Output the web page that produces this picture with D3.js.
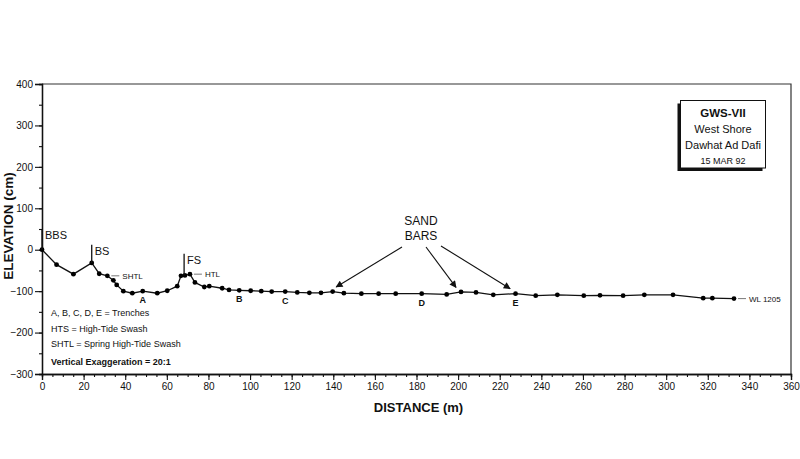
<!DOCTYPE html>
<html>
<head>
<meta charset="utf-8">
<script src="https://cdn.jsdelivr.net/npm/d3@7"></script>
<style>
  body { margin: 0; background: #fff; }
  text { font-family: "Liberation Sans", Arial, sans-serif; fill: #111; }
</style>
</head>
<body>
<svg id="chart" width="800" height="459"></svg>
<script>
// profile survey points (distance m, elevation cm)
const distances = [0, 7, 15.1, 23.9, 27.5, 31.4, 34.3, 35.9, 39.1, 43.4, 48.4, 55.4, 60.2, 65, 66.8,
  68.7, 71.1, 73.5, 78, 80.4, 86.6, 89.9, 94.8, 100.3, 105.4, 110.4, 116.9, 122.7, 128.5, 134.1,
  139.7, 145.1, 153.5, 161.8, 170, 182.5, 194.5, 201.4, 208.6, 216.9, 227.6, 237.3, 247.7, 260.4,
  268.2, 279.3, 289.5, 303.3, 317.8, 322.2, 332.6]
const elevations = [0, -36, -59, -32, -58, -63, -74, -85, -100, -105, -100, -105, -99, -88, -63,
  -62, -59, -79, -90, -88, -93, -97, -98, -99, -100, -101, -101, -103, -104, -104,
  -101, -105, -106, -106, -106, -106, -108, -102, -103, -109, -106, -111, -109, -111,
  -110, -111, -109, -109, -117, -117, -118]

// beach features: vertical tick markers
const markerNames = ["BBS", "BS", "FS"]
const markerX = [0, 23.9, 68.3]
const markerBottom = [0, -32, -62]
const markerTop = [50, 12, -10]

// trenches
const trenchNames = ["A", "B", "C", "D", "E"]
const trenchX = [48.4, 94.8, 116.9, 182.5, 227.6]
const trenchY = [-100, -98, -101, -106, -106]

// water lines (label off to the right of a point)
const lineNames = ["SHTL", "HTL", "WL 1205"]
const lineX = [31.4, 71.1, 332.6]
const lineY = [-63, -59, -118]

// sand bar arrow tips
const barX = [141.4, 199, 225]
const barY = [-90, -91, -94]

const legendLines = ["A, B, C, D, E = Trenches", "HTS =  High-Tide Swash", "SHTL = Spring High-Tide Swash"]
const boxLines = ["GWS-VII", "West Shore", "Dawhat Ad Dafi", "15 MAR 92"]

const plotL = 42, plotR = 791, plotT = 84, plotB = 374

const svg = d3.select("#chart")
const x = d3.scaleLinear().domain([0, 360]).range([plotL, plotR])
const y = d3.scaleLinear().domain([-300, 400]).range([plotB, plotT])

svg.append("defs").append("marker")
  .attr("id", "arrow").attr("viewBox", "0 0 10 10").attr("refX", 9).attr("refY", 5)
  .attr("markerWidth", 9).attr("markerHeight", 7).attr("orient", "auto")
  .attr("markerUnits", "userSpaceOnUse")
  .append("path").attr("d", "M0,0L10,5L0,10z").attr("fill", "#111")

// frame top & right
svg.append("path")
  .attr("d", `M${plotL},${plotT}H${plotR}V${plotB}`)
  .attr("fill", "none").attr("stroke", "#333").attr("stroke-width", 1.2)

// axes
const styleAxis = g => {
  g.select(".domain").attr("stroke", "#111").attr("stroke-width", 1.3)
  g.selectAll(".tick line").attr("stroke", "#111").attr("stroke-width", 1.1)
  g.selectAll(".tick text").style("font-size", "10px").attr("fill", "#111")
}
svg.append("g").attr("transform", `translate(${plotL},0)`)
  .call(d3.axisLeft(y).tickValues(d3.range(-300, 401, 50)).tickSize(3).tickFormat(""))
  .call(styleAxis)
svg.append("g").attr("transform", `translate(${plotL},0)`)
  .call(d3.axisLeft(y).tickValues(d3.range(-300, 401, 100)).tickSize(7).tickPadding(2))
  .call(styleAxis)
svg.append("g").attr("transform", `translate(0,${plotB})`)
  .call(d3.axisBottom(x).tickValues(d3.range(0, 361, 5)).tickSize(3).tickFormat(""))
  .call(styleAxis)
svg.append("g").attr("transform", `translate(0,${plotB})`)
  .call(d3.axisBottom(x).tickValues(d3.range(0, 361, 20)).tickSize(6).tickPadding(3))
  .call(styleAxis)

svg.append("text").attr("x", (plotL + plotR) / 2 + 2).attr("y", 412)
  .attr("text-anchor", "middle").style("font-size", "13px").style("font-weight", "bold")
  .text("DISTANCE (m)")
svg.append("text").attr("transform", `translate(13,${(plotT + plotB) / 2 - 3}) rotate(-90)`)
  .attr("text-anchor", "middle").style("font-size", "13.5px").style("font-weight", "bold")
  .text("ELEVATION (cm)")

// profile
const pts = distances.map((d, i) => [d, elevations[i]])
svg.append("path").datum(pts)
  .attr("d", d3.line().x(d => x(d[0])).y(d => y(d[1])))
  .attr("fill", "none").attr("stroke", "#111").attr("stroke-width", 1.3)
svg.selectAll("circle.pt").data(pts).enter().append("circle")
  .attr("cx", d => x(d[0])).attr("cy", d => y(d[1])).attr("r", 2.4).attr("fill", "#000")

// markers
markerNames.forEach((name, i) => {
  svg.append("line")
    .attr("x1", x(markerX[i])).attr("x2", x(markerX[i]))
    .attr("y1", y(markerBottom[i])).attr("y2", y(markerTop[i]))
    .attr("stroke", "#111").attr("stroke-width", 1.3)
  svg.append("text").attr("x", x(markerX[i]) + 3).attr("y", y(markerTop[i]) + 10)
    .style("font-size", "11px").text(name)
})

// trenches
trenchNames.forEach((name, i) => {
  svg.append("text").attr("x", x(trenchX[i])).attr("y", y(trenchY[i]) + 12)
    .attr("text-anchor", "middle").style("font-size", "9px").style("font-weight", "bold")
    .text(name)
})

// water line labels
lineNames.forEach((name, i) => {
  const x0 = x(lineX[i]) + 4, yy = y(lineY[i])
  svg.append("line").attr("x1", x0).attr("x2", x0 + 8).attr("y1", yy).attr("y2", yy)
    .attr("stroke", "#555").attr("stroke-width", 0.8)
  svg.append("text").attr("x", x0 + 11).attr("y", yy + 3)
    .style("font-size", "8px").text(name)
})

// sand bars
svg.append("text").attr("x", 421).attr("y", 225).attr("text-anchor", "middle")
  .style("font-size", "12px").text("SAND")
svg.append("text").attr("x", 421).attr("y", 240).attr("text-anchor", "middle")
  .style("font-size", "12px").text("BARS")
const starts = [[402, 247], [426, 247], [441, 246]]
barX.forEach((bx, i) => {
  svg.append("line")
    .attr("x1", starts[i][0]).attr("y1", starts[i][1])
    .attr("x2", x(bx)).attr("y2", y(barY[i]))
    .attr("stroke", "#111").attr("stroke-width", 1.1)
    .attr("marker-end", "url(#arrow)")
})

// legend
legendLines.forEach((t, i) => {
  svg.append("text").attr("x", 51).attr("y", 316 + i * 15.5)
    .style("font-size", "9px").text(t)
})
svg.append("text").attr("x", 51).attr("y", 365)
  .style("font-size", "9px").style("font-weight", "bold").text("Vertical Exaggeration = 20:1")

// title box, shadow to lower left
const bx = 680.5, by = 100.5, bw = 85, bh = 67.5
svg.append("rect").attr("x", bx - 3).attr("y", by + 3).attr("width", bw).attr("height", bh).attr("fill", "#111")
svg.append("rect").attr("x", bx).attr("y", by).attr("width", bw).attr("height", bh)
  .attr("fill", "#fff").attr("stroke", "#111").attr("stroke-width", 1)
const boxY = [117, 133, 148.5, 164]
boxLines.forEach((t, i) => {
  svg.append("text").attr("x", bx + bw / 2).attr("y", boxY[i]).attr("text-anchor", "middle")
    .style("font-size", i === 3 ? "9px" : i === 0 ? "11.5px" : "11px")
    .style("font-weight", i === 0 ? "bold" : "normal")
    .text(t)
})
</script>
</body>
</html>
